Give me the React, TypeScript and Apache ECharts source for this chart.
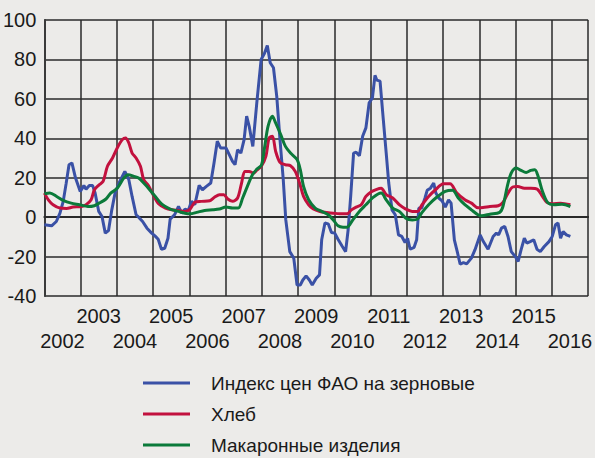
import React, { useEffect, useRef } from "react";
import * as echarts from "echarts";

const years = ["2002","2003","2004","2005","2006","2007","2008","2009","2010","2011","2012","2013","2014","2015","2016"];
const yTicks = { min: -40, max: 100, step: 20 };

const seriesNames = ["Индекс цен ФАО на зерновые", "Хлеб", "Макаронные изделия"];

const faoIndex: [number, number][] = [
  [2002.00,-3.9],[2002.20,-4.4],[2002.33,-2.2],[2002.43,2],[2002.52,8],[2002.60,17],[2002.68,26.6],[2002.76,27.5],
  [2002.86,19.8],[2002.99,13],[2003.09,16],[2003.15,14.2],[2003.24,16.1],[2003.33,16.1],[2003.40,12.2],[2003.50,2.9],
  [2003.59,0.3],[2003.68,-8.1],[2003.77,-6.8],[2003.86,3.7],[2003.95,12.2],[2004.06,17.3],[2004.22,23.2],[2004.33,19],
  [2004.42,10.5],[2004.53,1.2],[2004.60,0],[2004.71,-2.2],[2004.83,-5.6],[2004.96,-8.1],[2005.05,-9.5],[2005.14,-11.2],
  [2005.23,-16.3],[2005.32,-15.8],[2005.41,-10.7],[2005.47,-1],[2005.59,1.2],[2005.70,5.4],[2005.79,2],[2005.88,4.1],
  [2005.97,3.4],[2006.06,8],[2006.15,6.3],[2006.27,16.1],[2006.36,13.9],[2006.47,15.6],[2006.59,17.3],[2006.68,27.5],
  [2006.77,38.5],[2006.86,35.1],[2007.01,35.1],[2007.10,31.7],[2007.19,28.3],[2007.26,26.6],[2007.33,34.2],[2007.42,32.5],
  [2007.51,39.3],[2007.58,51.2],[2007.65,46.1],[2007.75,35.9],[2007.86,58],[2007.98,80],[2008.07,83],[2008.15,87.1],
  [2008.23,78.3],[2008.32,75.8],[2008.41,61.4],[2008.50,39.3],[2008.59,19],[2008.66,-1.4],[2008.77,-17.5],[2008.88,-20.8],
  [2008.97,-34.4],[2009.06,-34.4],[2009.13,-31.9],[2009.22,-29.8],[2009.31,-31.9],[2009.39,-34.4],[2009.50,-31],[2009.59,-29.3],
  [2009.65,-11.5],[2009.74,-3],[2009.83,-3.4],[2009.92,-7.8],[2010.01,-8.1],[2010.10,-11.2],[2010.22,-14.9],[2010.31,-17.5],
  [2010.38,-6.4],[2010.45,10.5],[2010.53,32.5],[2010.60,32.9],[2010.69,31.2],[2010.78,41],[2010.87,45.3],[2010.96,58],
  [2011.05,60.5],[2011.12,71.9],[2011.17,69.5],[2011.26,69],[2011.35,49.5],[2011.43,32.5],[2011.50,17.3],[2011.59,3.7],
  [2011.68,1.2],[2011.77,-9],[2011.86,-9.8],[2011.95,-12.9],[2012.02,-10.7],[2012.09,-16.3],[2012.20,-15.3],[2012.27,-11.5],
  [2012.33,4.6],[2012.41,4.6],[2012.50,9.7],[2012.56,13.6],[2012.65,14.7],[2012.74,17.3],[2012.80,12.2],[2012.88,9.7],
  [2012.97,8.3],[2013.06,5.1],[2013.15,8.8],[2013.22,7.1],[2013.31,-11.5],[2013.40,-18.3],[2013.47,-23.9],[2013.56,-23.1],
  [2013.65,-23.7],[2013.78,-20.8],[2013.88,-16.5],[2014.02,-9],[2014.11,-12.4],[2014.24,-16.3],[2014.38,-9.8],[2014.47,-8.1],
  [2014.53,-9],[2014.61,-5.6],[2014.70,-4.7],[2014.79,-9.8],[2014.88,-17.5],[2014.99,-20],[2015.07,-22.5],[2015.15,-16.6],
  [2015.24,-10.7],[2015.31,-13.2],[2015.40,-12.4],[2015.50,-11.5],[2015.59,-16.3],[2015.68,-17.5],[2015.79,-14.9],[2015.92,-12.4],
  [2016.01,-9.8],[2016.10,-3.9],[2016.17,-3],[2016.24,-10.7],[2016.31,-7.3],[2016.40,-9],[2016.51,-9.8]
];

const bread: [number, number][] = [
  [2002.00,12.2],[2002.11,8.8],[2002.24,6.3],[2002.43,4.6],[2002.61,4.4],[2002.79,5.1],[2003.02,5.4],[2003.15,6.3],
  [2003.29,8.8],[2003.38,13.9],[2003.51,16.4],[2003.62,18.1],[2003.74,25.8],[2003.88,30],[2004.01,35.1],[2004.15,39.3],
  [2004.24,40.2],[2004.33,37.6],[2004.42,32.5],[2004.53,30],[2004.65,25.8],[2004.74,19],[2004.87,16],[2005.01,11],
  [2005.15,6.8],[2005.34,4.6],[2005.52,3.7],[2005.70,3.4],[2005.88,2.9],[2006.02,4.1],[2006.15,7.5],[2006.33,8],
  [2006.56,8.3],[2006.70,10.2],[2006.83,11.4],[2006.95,11.4],[2007.06,9.2],[2007.19,8],[2007.33,9.7],[2007.44,17.3],
  [2007.53,23.2],[2007.65,23.2],[2007.77,22.4],[2007.87,24],[2007.99,26],[2008.11,30.8],[2008.20,40.2],[2008.29,41],
  [2008.38,33.4],[2008.50,27.8],[2008.65,26.6],[2008.79,26.1],[2008.92,23.2],[2009.04,17.3],[2009.15,10.5],[2009.29,6.3],
  [2009.42,4.1],[2009.60,2.9],[2009.79,2.4],[2009.97,2],[2010.15,1.7],[2010.35,1.7],[2010.47,3.7],[2010.60,5.1],
  [2010.74,6.3],[2010.87,10.5],[2011.01,12.8],[2011.15,14],[2011.29,14.7],[2011.43,11.4],[2011.61,9.7],[2011.79,6.3],
  [2011.97,4.1],[2012.15,2.9],[2012.29,2.9],[2012.42,6.3],[2012.60,10.5],[2012.79,13.9],[2013.01,16.9],[2013.19,16.9],
  [2013.38,12.2],[2013.60,8.8],[2013.78,7.1],[2013.96,4.8],[2014.10,4.9],[2014.29,5.4],[2014.52,5.8],[2014.65,7.5],
  [2014.79,12.2],[2014.92,15.3],[2015.06,15.6],[2015.24,14.7],[2015.42,14.7],[2015.60,14.2],[2015.74,10.5],[2015.86,7.5],
  [2016.01,6.8],[2016.24,7.1],[2016.51,6.3]
];

const pasta: [number, number][] = [
  [2002.00,11.9],[2002.15,12.2],[2002.34,10.5],[2002.52,8.5],[2002.74,7.1],[2002.97,6.3],[2003.20,5.4],[2003.38,5.8],
  [2003.51,7.1],[2003.70,9.2],[2003.83,12.2],[2004.01,14.7],[2004.19,19.8],[2004.31,21.5],[2004.47,20.7],[2004.60,19.8],
  [2004.74,17.3],[2004.87,14.7],[2005.06,10.5],[2005.24,6.6],[2005.47,4.1],[2005.70,2.9],[2005.88,2],[2006.02,1.7],
  [2006.20,2.4],[2006.42,3.4],[2006.65,3.7],[2006.83,4.1],[2007.01,5.1],[2007.19,4.6],[2007.35,4.6],[2007.47,9.7],
  [2007.60,15.6],[2007.74,21.5],[2007.87,24.5],[2007.99,26.5],[2008.08,35.9],[2008.17,46.1],[2008.29,51.2],[2008.38,47.8],
  [2008.52,41.9],[2008.65,35.9],[2008.79,32.5],[2008.97,29.2],[2009.06,24.1],[2009.15,15.6],[2009.29,8.8],[2009.47,4.6],
  [2009.65,2.9],[2009.83,1.2],[2009.97,-1.4],[2010.10,-4.4],[2010.24,-5.1],[2010.35,-5.1],[2010.51,-1.4],[2010.69,2.9],
  [2010.87,6.3],[2011.06,9.9],[2011.29,12.2],[2011.43,8.8],[2011.61,4.6],[2011.79,2.9],[2011.97,-0.5],[2012.15,-1.4],
  [2012.29,-1],[2012.42,2.4],[2012.60,6.3],[2012.83,10.2],[2013.06,13.1],[2013.26,13.6],[2013.42,9.7],[2013.60,6.3],
  [2013.78,3.7],[2013.96,1.2],[2014.06,0.7],[2014.29,1.5],[2014.56,2.4],[2014.65,5.4],[2014.77,15.6],[2014.88,22.4],
  [2015.02,24.9],[2015.15,23.7],[2015.29,22.7],[2015.42,23.7],[2015.53,24.1],[2015.62,20.7],[2015.74,13.1],[2015.88,7.5],
  [2016.06,6.3],[2016.28,6.6],[2016.51,5.4]
];

const colors = ["#3A51A6", "#C2113E", "#0B7A3A"];
const FONT = "'Liberation Sans', Arial, sans-serif";

export default function App() {
  const ref = useRef<HTMLDivElement>(null);
  useEffect(() => {
    document.body.style.margin = "0";
    const chart = echarts.init(ref.current!, null, { renderer: "svg" });
    const labelAxisBase = {
      type: "category" as const,
      data: years,
      position: "bottom" as const,
      gridIndex: 0,
      boundaryGap: true,
      axisLine: { show: false },
      axisTick: { show: false },
      splitLine: { show: false },
    };
    chart.setOption({
      animation: false,
      backgroundColor: "#ECEBE9",
      grid: { left: 44, right: 0, top: 20, bottom: 162 },
      legend: {
        orient: "vertical",
        left: 143,
        top: 372,
        height: 86,
        padding: 0,
        icon: "rect",
        itemWidth: 47,
        itemHeight: 3,
        itemGap: 9,
        textStyle: { fontFamily: FONT, fontSize: 19, color: "#1a1a1a", padding: [0, 0, 0, 16], lineHeight: 22 },
        data: seriesNames,
      },
      xAxis: [
        {
          type: "value",
          min: 2002,
          max: 2017,
          interval: 1,
          axisLabel: { show: false },
          axisTick: { show: false },
          axisLine: { show: true, lineStyle: { color: "#2a2a2a", width: 2 } },
          splitLine: { show: true, lineStyle: { color: "#2a2a2a", width: 1.5 } },
        },
        {
          ...labelAxisBase,
          axisLabel: {
            interval: (i: number) => i % 2 === 1,
            margin: 10,
            fontFamily: FONT,
            fontSize: 20,
            color: "#1a1a1a",
          },
        },
        {
          ...labelAxisBase,
          axisLabel: {
            interval: (i: number) => i % 2 === 0,
            margin: 35,
            fontFamily: FONT,
            fontSize: 20,
            color: "#1a1a1a",
          },
        },
      ],
      yAxis: {
        type: "value",
        min: yTicks.min,
        max: yTicks.max,
        interval: yTicks.step,
        axisLine: { show: true, lineStyle: { color: "#3a3a3a", width: 2 } },
        axisTick: { show: false },
        axisLabel: { margin: 8, fontFamily: FONT, fontSize: 20, color: "#1a1a1a" },
        splitLine: { show: true, lineStyle: { color: "#2a2a2a", width: 1.5 } },
      },
      series: [
        { name: seriesNames[0], type: "line", xAxisIndex: 0, data: faoIndex, showSymbol: false, symbol: "none", lineStyle: { width: 3, color: colors[0] }, itemStyle: { color: colors[0] } },
        { name: seriesNames[1], type: "line", xAxisIndex: 0, data: bread, showSymbol: false, symbol: "none", smooth: 0.3, lineStyle: { width: 3, color: colors[1] }, itemStyle: { color: colors[1] } },
        { name: seriesNames[2], type: "line", xAxisIndex: 0, data: pasta, showSymbol: false, symbol: "none", smooth: 0.3, lineStyle: { width: 3, color: colors[2] }, itemStyle: { color: colors[2] } },
      ],
    });
    return () => chart.dispose();
  }, []);
  return <div ref={ref} style={{ width: 595, height: 458 }} />;
}
